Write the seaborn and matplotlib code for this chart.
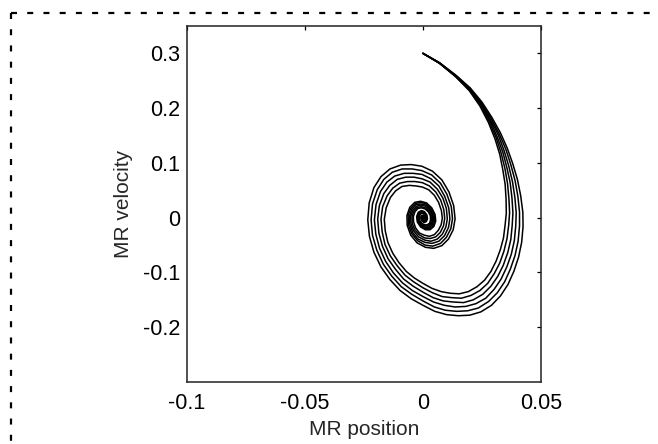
import matplotlib
matplotlib.use('Agg')
import matplotlib.pyplot as plt
from matplotlib.lines import Line2D
import pandas as pd
import seaborn as sns

# phase portrait: MR position vs MR velocity, six runs
x0 = [0.0000, 0.0070, 0.0140, 0.0200, 0.0250, 0.0292, 0.0328, 0.0357, 0.0380, 0.0400,
      0.0414, 0.0423, 0.0424, 0.0418, 0.0405, 0.0385, 0.0360, 0.0328, 0.0290, 0.0245,
      0.0198, 0.0150, 0.0100, 0.0050, 0.0000, -0.0050, -0.0097, -0.0140, -0.0178, -0.0208,
      -0.0227, -0.0234, -0.0228, -0.0208, -0.0178, -0.0140, -0.0095, -0.0050, -0.0005, 0.0040,
      0.0080, 0.0110, 0.0130, 0.0136, 0.0128, 0.0108, 0.0080, 0.0045, 0.0010, -0.0025,
      -0.0052, -0.0067, -0.0068, -0.0056, -0.0035, -0.0010, 0.0015, 0.0037, 0.0051, 0.0054,
      0.0046, 0.0030, 0.0010, -0.0010, -0.0024, -0.0027, -0.0020, -0.0007, 0.0006, 0.0016,
      0.0019, 0.0014, 0.0005, -0.0004, -0.0009, -0.0007, -0.0001, 0.0004, 0.0005, 0.0002]
y0 = [0.300, 0.283, 0.260, 0.237, 0.211, 0.183, 0.155, 0.127, 0.099, 0.070,
      0.040, 0.010, -0.016, -0.045, -0.072, -0.098, -0.122, -0.143, -0.160, -0.172,
      -0.178, -0.179, -0.177, -0.171, -0.160, -0.148, -0.133, -0.113, -0.090, -0.063,
      -0.034, -0.004, 0.027, 0.055, 0.075, 0.089, 0.096, 0.097, 0.094, 0.085,
      0.069, 0.047, 0.022, -0.002, -0.022, -0.039, -0.051, -0.056, -0.054, -0.046,
      -0.032, -0.014, 0.004, 0.019, 0.028, 0.030, 0.027, 0.018, 0.006, -0.006,
      -0.016, -0.022, -0.022, -0.017, -0.008, 0.002, 0.010, 0.013, 0.011, 0.005,
      -0.002, -0.007, -0.009, -0.006, -0.001, 0.003, 0.004, 0.002, -0.001, -0.003]

x1 = [0.0000, 0.0070, 0.0140, 0.0199, 0.0248, 0.0289, 0.0323, 0.0351, 0.0372, 0.0390,
      0.0402, 0.0409, 0.0409, 0.0403, 0.0390, 0.0370, 0.0346, 0.0315, 0.0278, 0.0234,
      0.0189, 0.0143, 0.0095, 0.0048, 0.0000, -0.0047, -0.0092, -0.0132, -0.0168, -0.0196,
      -0.0214, -0.0220, -0.0214, -0.0194, -0.0166, -0.0130, -0.0088, -0.0046, -0.0005, 0.0037,
      0.0074, 0.0101, 0.0120, 0.0125, 0.0118, 0.0099, 0.0074, 0.0041, 0.0009, -0.0023,
      -0.0048, -0.0062, -0.0063, -0.0052, -0.0032, -0.0009, 0.0014, 0.0034, 0.0047, 0.0050,
      0.0042, 0.0028, 0.0009, -0.0009, -0.0022, -0.0025, -0.0018, -0.0006, 0.0006, 0.0015,
      0.0017, 0.0013, 0.0005, -0.0004, -0.0008, -0.0006, -0.0001, 0.0004, 0.0005, 0.0002]
y1 = [0.300, 0.283, 0.259, 0.236, 0.210, 0.181, 0.153, 0.125, 0.097, 0.068,
      0.039, 0.010, -0.015, -0.043, -0.069, -0.094, -0.117, -0.137, -0.153, -0.165,
      -0.170, -0.171, -0.169, -0.163, -0.152, -0.140, -0.126, -0.107, -0.085, -0.059,
      -0.032, -0.004, 0.025, 0.051, 0.070, 0.083, 0.089, 0.089, 0.086, 0.078,
      0.063, 0.043, 0.020, -0.002, -0.020, -0.036, -0.047, -0.052, -0.050, -0.042,
      -0.029, -0.013, 0.004, 0.017, 0.026, 0.028, 0.025, 0.017, 0.006, -0.006,
      -0.015, -0.020, -0.020, -0.016, -0.007, 0.002, 0.009, 0.012, 0.010, 0.005,
      -0.002, -0.006, -0.008, -0.006, -0.001, 0.003, 0.004, 0.002, -0.001, -0.003]

x2 = [0.0000, 0.0070, 0.0139, 0.0198, 0.0247, 0.0286, 0.0319, 0.0344, 0.0363, 0.0379,
      0.0389, 0.0395, 0.0393, 0.0387, 0.0374, 0.0355, 0.0331, 0.0301, 0.0266, 0.0224,
      0.0181, 0.0136, 0.0091, 0.0045, 0.0000, -0.0045, -0.0087, -0.0125, -0.0158, -0.0184,
      -0.0200, -0.0206, -0.0199, -0.0180, -0.0153, -0.0120, -0.0080, -0.0042, -0.0004, 0.0034,
      0.0067, 0.0092, 0.0109, 0.0114, 0.0108, 0.0091, 0.0067, 0.0038, 0.0008, -0.0021,
      -0.0044, -0.0056, -0.0057, -0.0047, -0.0029, -0.0008, 0.0013, 0.0031, 0.0043, 0.0045,
      0.0039, 0.0025, 0.0008, -0.0008, -0.0020, -0.0023, -0.0017, -0.0006, 0.0005, 0.0013,
      0.0016, 0.0012, 0.0004, -0.0003, -0.0008, -0.0006, -0.0001, 0.0003, 0.0004, 0.0002]
y2 = [0.300, 0.282, 0.259, 0.235, 0.208, 0.179, 0.151, 0.122, 0.095, 0.066,
      0.038, 0.009, -0.015, -0.042, -0.067, -0.090, -0.112, -0.131, -0.147, -0.157,
      -0.162, -0.163, -0.160, -0.154, -0.144, -0.133, -0.119, -0.101, -0.080, -0.056,
      -0.030, -0.004, 0.024, 0.048, 0.065, 0.076, 0.081, 0.081, 0.079, 0.071,
      0.058, 0.039, 0.018, -0.002, -0.018, -0.033, -0.043, -0.047, -0.045, -0.039,
      -0.027, -0.012, 0.003, 0.016, 0.024, 0.025, 0.023, 0.015, 0.005, -0.005,
      -0.013, -0.018, -0.018, -0.014, -0.007, 0.002, 0.008, 0.011, 0.009, 0.004,
      -0.002, -0.006, -0.008, -0.005, -0.001, 0.003, 0.003, 0.002, -0.001, -0.003]

x3 = [0.0000, 0.0070, 0.0139, 0.0198, 0.0245, 0.0283, 0.0314, 0.0338, 0.0355, 0.0369,
      0.0377, 0.0381, 0.0378, 0.0372, 0.0359, 0.0340, 0.0317, 0.0288, 0.0253, 0.0213,
      0.0172, 0.0129, 0.0086, 0.0043, 0.0000, -0.0042, -0.0082, -0.0117, -0.0148, -0.0172,
      -0.0187, -0.0192, -0.0185, -0.0166, -0.0141, -0.0109, -0.0073, -0.0038, -0.0004, 0.0030,
      0.0061, 0.0084, 0.0099, 0.0103, 0.0097, 0.0082, 0.0061, 0.0034, 0.0008, -0.0019,
      -0.0040, -0.0051, -0.0052, -0.0043, -0.0027, -0.0008, 0.0011, 0.0028, 0.0039, 0.0041,
      0.0035, 0.0023, 0.0008, -0.0008, -0.0018, -0.0021, -0.0015, -0.0005, 0.0005, 0.0012,
      0.0014, 0.0011, 0.0004, -0.0003, -0.0007, -0.0005, -0.0001, 0.0003, 0.0004, 0.0002]
y3 = [0.300, 0.282, 0.258, 0.234, 0.207, 0.178, 0.148, 0.120, 0.092, 0.065,
      0.036, 0.009, -0.014, -0.040, -0.064, -0.087, -0.107, -0.125, -0.140, -0.150,
      -0.155, -0.154, -0.152, -0.146, -0.136, -0.125, -0.112, -0.094, -0.075, -0.052,
      -0.028, -0.003, 0.022, 0.044, 0.059, 0.070, 0.074, 0.074, 0.071, 0.065,
      0.052, 0.036, 0.017, -0.002, -0.017, -0.030, -0.039, -0.043, -0.041, -0.035,
      -0.024, -0.011, 0.003, 0.014, 0.021, 0.023, 0.021, 0.014, 0.005, -0.005,
      -0.012, -0.017, -0.017, -0.013, -0.006, 0.002, 0.008, 0.010, 0.008, 0.004,
      -0.002, -0.005, -0.007, -0.005, -0.001, 0.002, 0.003, 0.002, -0.001, -0.002]

x4 = [0.0000, 0.0070, 0.0139, 0.0197, 0.0243, 0.0280, 0.0310, 0.0331, 0.0347, 0.0358,
      0.0364, 0.0367, 0.0363, 0.0356, 0.0343, 0.0325, 0.0302, 0.0274, 0.0241, 0.0203,
      0.0163, 0.0122, 0.0081, 0.0040, 0.0000, -0.0040, -0.0076, -0.0109, -0.0138, -0.0161,
      -0.0173, -0.0178, -0.0171, -0.0152, -0.0128, -0.0099, -0.0066, -0.0034, -0.0003, 0.0027,
      0.0054, 0.0075, 0.0088, 0.0092, 0.0087, 0.0073, 0.0054, 0.0031, 0.0007, -0.0017,
      -0.0035, -0.0046, -0.0046, -0.0038, -0.0024, -0.0007, 0.0010, 0.0025, 0.0035, 0.0037,
      0.0031, 0.0020, 0.0007, -0.0007, -0.0016, -0.0018, -0.0014, -0.0005, 0.0004, 0.0011,
      0.0013, 0.0010, 0.0003, -0.0003, -0.0006, -0.0005, -0.0001, 0.0003, 0.0003, 0.0001]
y4 = [0.300, 0.282, 0.258, 0.233, 0.205, 0.176, 0.146, 0.118, 0.090, 0.063,
      0.035, 0.009, -0.014, -0.038, -0.061, -0.083, -0.102, -0.120, -0.133, -0.142,
      -0.147, -0.146, -0.144, -0.137, -0.128, -0.117, -0.105, -0.088, -0.070, -0.049,
      -0.026, -0.003, 0.020, 0.040, 0.054, 0.063, 0.066, 0.066, 0.064, 0.058,
      0.047, 0.032, 0.015, -0.001, -0.015, -0.027, -0.035, -0.038, -0.037, -0.031,
      -0.022, -0.010, 0.003, 0.013, 0.019, 0.020, 0.018, 0.012, 0.004, -0.004,
      -0.011, -0.015, -0.015, -0.012, -0.005, 0.001, 0.007, 0.009, 0.007, 0.003,
      -0.001, -0.005, -0.006, -0.004, -0.001, 0.002, 0.003, 0.001, -0.001, -0.002]

x5 = [0.0000, 0.0070, 0.0139, 0.0196, 0.0241, 0.0277, 0.0305, 0.0325, 0.0338, 0.0348,
      0.0352, 0.0353, 0.0348, 0.0341, 0.0328, 0.0310, 0.0288, 0.0261, 0.0229, 0.0192,
      0.0154, 0.0116, 0.0077, 0.0038, 0.0000, -0.0037, -0.0071, -0.0102, -0.0128, -0.0149,
      -0.0160, -0.0164, -0.0156, -0.0138, -0.0116, -0.0089, -0.0058, -0.0030, -0.0003, 0.0024,
      0.0048, 0.0066, 0.0078, 0.0082, 0.0077, 0.0065, 0.0048, 0.0027, 0.0006, -0.0015,
      -0.0031, -0.0040, -0.0041, -0.0034, -0.0021, -0.0006, 0.0009, 0.0022, 0.0031, 0.0032,
      0.0028, 0.0018, 0.0006, -0.0006, -0.0014, -0.0016, -0.0012, -0.0004, 0.0004, 0.0010,
      0.0011, 0.0008, 0.0003, -0.0002, -0.0005, -0.0004, -0.0001, 0.0002, 0.0003, 0.0001]
y5 = [0.300, 0.282, 0.257, 0.232, 0.204, 0.174, 0.144, 0.116, 0.088, 0.061,
      0.034, 0.008, -0.013, -0.037, -0.058, -0.079, -0.098, -0.114, -0.126, -0.135,
      -0.139, -0.138, -0.135, -0.129, -0.120, -0.110, -0.098, -0.082, -0.065, -0.045,
      -0.024, -0.003, 0.018, 0.037, 0.049, 0.057, 0.059, 0.058, 0.056, 0.051,
      0.041, 0.028, 0.013, -0.001, -0.013, -0.023, -0.031, -0.034, -0.032, -0.028,
      -0.019, -0.008, 0.002, 0.011, 0.017, 0.018, 0.016, 0.011, 0.004, -0.004,
      -0.010, -0.013, -0.013, -0.010, -0.005, 0.001, 0.006, 0.008, 0.007, 0.003,
      -0.001, -0.004, -0.005, -0.004, -0.001, 0.002, 0.002, 0.001, -0.001, -0.002]

xticks = [-0.1, -0.05, 0, 0.05]
xtick_labels = ["-0.1", "-0.05", "0", "0.05"]
yticks = [-0.2, -0.1, 0, 0.1, 0.2, 0.3]
ytick_labels = ["-0.2", "-0.1", "0", "0.1", "0.2", "0.3"]

runs = [(x0, y0), (x1, y1), (x2, y2), (x3, y3), (x4, y4), (x5, y5)]
frames = []
for i, (xs, ys) in enumerate(runs):
    frames.append(pd.DataFrame({"MR position": xs, "MR velocity": ys,
                                "run": i, "step": range(len(xs))}))
df = pd.concat(frames, ignore_index=True)

sns.set_style("white")
plt.rcParams['font.family'] = ['Liberation Sans', 'DejaVu Sans']
plt.rcParams['axes.unicode_minus'] = False

fig = plt.figure(figsize=(6.58, 4.44), dpi=100)
ax = fig.add_axes([187 / 658, 1 - 382 / 444, 354 / 658, 356 / 444])

sns.lineplot(data=df, x="MR position", y="MR velocity", units="run",
             estimator=None, sort=False, color="black", linewidth=1.1, ax=ax)

ax.set_xlim(-0.1, 0.05)
ax.set_ylim(-0.3, 0.35)
ax.set_xticks(xticks)
ax.set_xticklabels(xtick_labels)
ax.set_yticks(yticks)
ax.set_yticklabels(ytick_labels)
ax.tick_params(direction="in", top=True, right=True, length=3, width=0.9,
               colors="black", labelsize=15.5)
ax.tick_params(axis="x", pad=8)
ax.tick_params(axis="y", pad=5)
for s in ax.spines.values():
    s.set_visible(True)
    s.set_color("#222222")
    s.set_linewidth(1.1)
ax.set_xlabel("MR position", fontsize=15, labelpad=4)
ax.set_ylabel("MR velocity", fontsize=15, labelpad=7)

# dashed frame, cut off at the right and bottom
cx, cy = 11 / 658, 1 - 13 / 444
dash = (0, (2.7, 4.6))
fig.add_artist(Line2D([cx, 1.05], [cy, cy], transform=fig.transFigure,
                      color="black", lw=1.6, linestyle=dash))
fig.add_artist(Line2D([cx, cx], [cy, -0.05], transform=fig.transFigure,
                      color="black", lw=1.6, linestyle=dash))

fig.savefig("out.png", dpi=100)
